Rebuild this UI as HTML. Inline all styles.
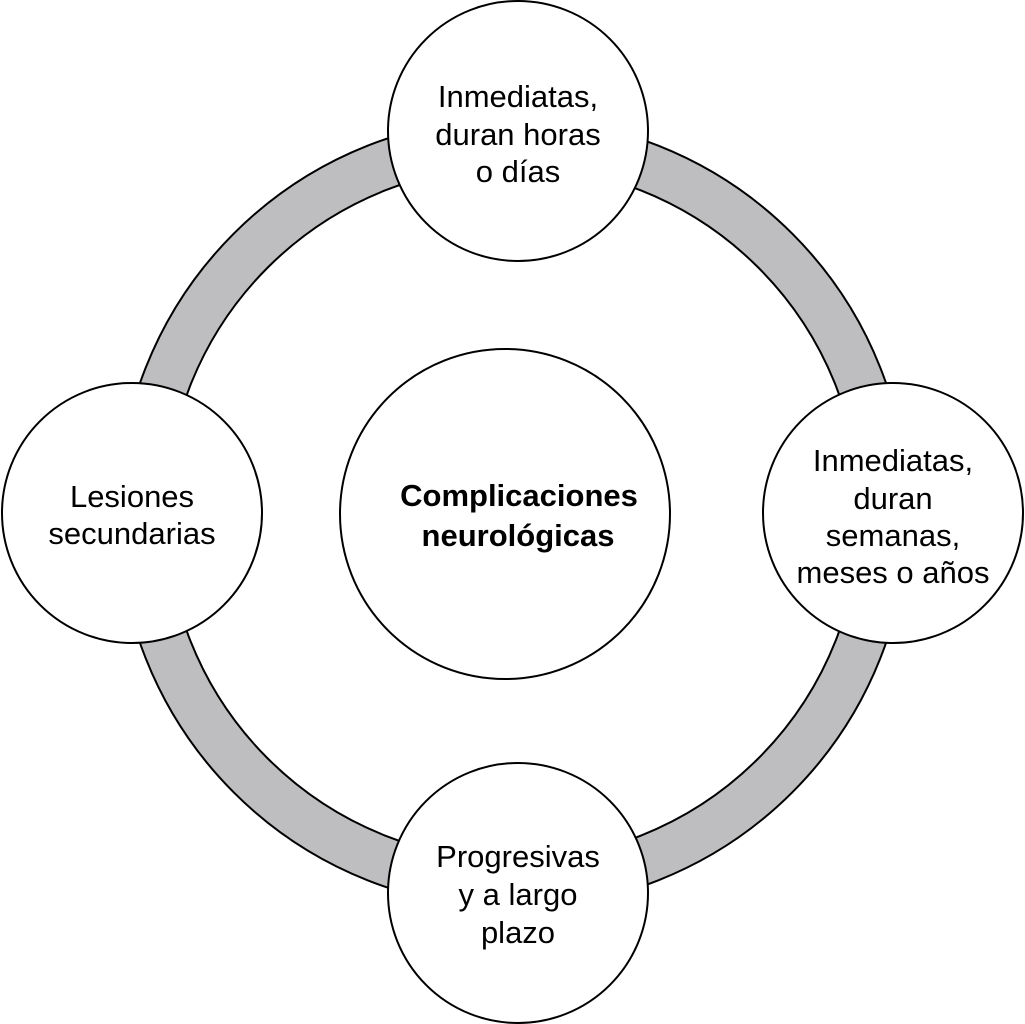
<!DOCTYPE html>
<html><head><meta charset="utf-8"><style>
html,body{margin:0;padding:0;background:#fff;}
svg{display:block;}
text{font-family:"Liberation Sans",Arial,sans-serif;font-size:31px;fill:#000;}
</style></head><body>
<svg width="1025" height="1024" viewBox="0 0 1025 1024" xmlns="http://www.w3.org/2000/svg">
<circle cx="513" cy="513" r="371" fill="none" stroke="#000" stroke-width="50"/>
<circle cx="513" cy="513" r="371" fill="none" stroke="#bebec0" stroke-width="46"/>
<g fill="#fff" stroke="#000" stroke-width="2">
<circle cx="518" cy="131" r="130"/>
<circle cx="893" cy="513" r="130"/>
<circle cx="518" cy="893" r="130"/>
<circle cx="132" cy="513" r="130"/>
<circle cx="505" cy="514" r="165"/>
</g>
<g text-anchor="middle">
<text x="518" y="107">Inmediatas,</text>
<text x="518" y="145">duran horas</text>
<text x="518" y="182">o días</text>
<text x="893" y="471">Inmediatas,</text>
<text x="893" y="509">duran</text>
<text x="893" y="546">semanas,</text>
<text x="893" y="583">meses o años</text>
<text x="518" y="867">Progresivas</text>
<text x="518" y="905">y a largo</text>
<text x="518" y="943">plazo</text>
<text x="132" y="507">Lesiones</text>
<text x="132" y="544">secundarias</text>
<text x="519" y="506" font-weight="bold" font-size="32">Complicaciones</text>
<text x="518" y="546" font-weight="bold" font-size="32">neurológicas</text>
</g>
</svg>
</body></html>
